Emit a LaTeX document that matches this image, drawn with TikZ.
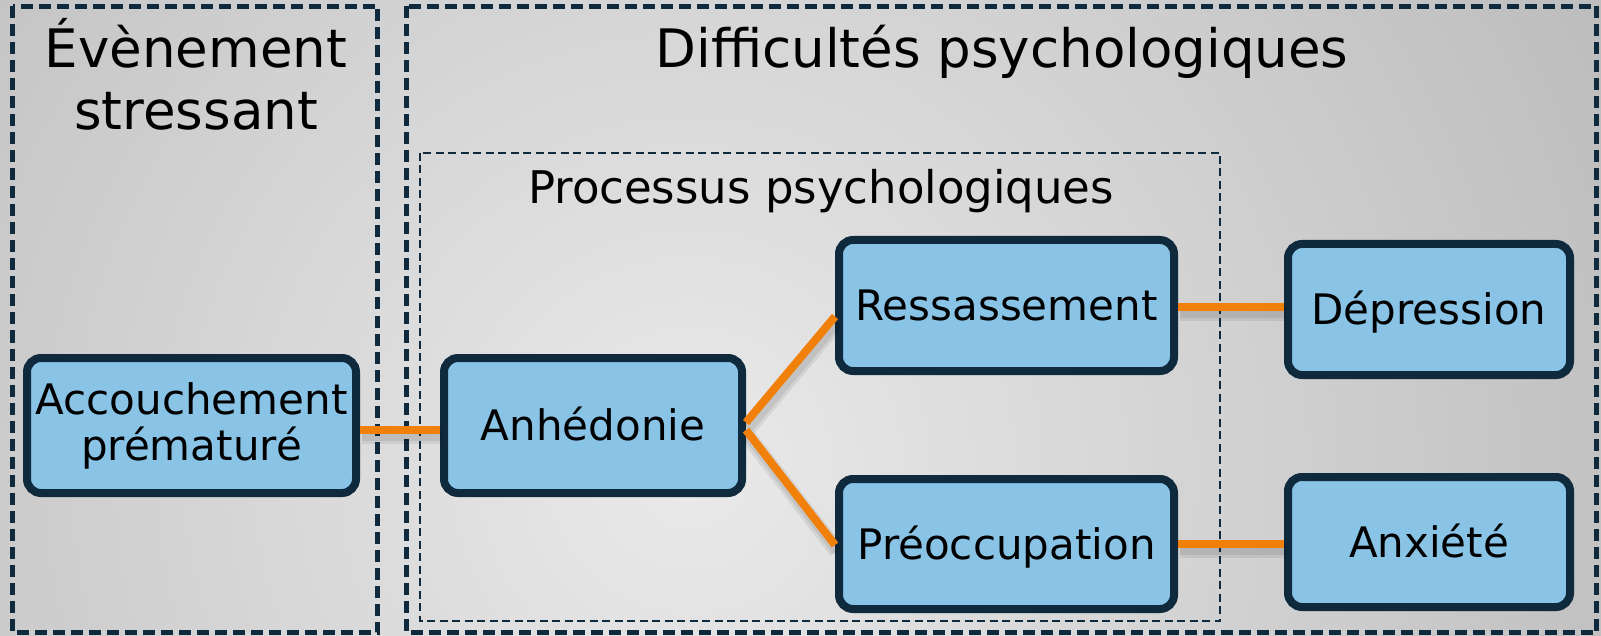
\documentclass[tikz,border=0pt]{standalone}
\usepackage{fontspec}
\setmainfont{DejaVu Sans}
\definecolor{boxfill}{RGB}{137,195,230}
\definecolor{navy}{RGB}{16,42,61}
\definecolor{conn}{RGB}{240,128,10}
\definecolor{bgin}{RGB}{234,234,234}
\definecolor{bgout}{RGB}{172,172,172}
\begin{document}
\begin{tikzpicture}[x=1pt,y=-1pt,
  procbase/.style={draw=navy, line width=8pt, fill=boxfill, rounded corners=14pt,
    inner sep=0pt, align=center, font=\fontsize{42}{46}\selectfont},
  proc/.style={procbase, text height=36pt, text depth=5.4pt},
  grp/.style={draw=navy, line width=4.4pt, dash pattern=on 12pt off 6pt},
  subgrp/.style={draw=navy, line width=2.6pt, dash pattern=on 8pt off 4.5pt},
  link/.style={draw=conn, line width=8pt},
  linkshadowA/.style={draw=black, opacity=0.07, line width=16pt, transform canvas={xshift=2pt,yshift=-6pt}},
  linkshadowB/.style={draw=black, opacity=0.08, line width=10pt, transform canvas={xshift=2pt,yshift=-6pt}},
  title/.style={font=\fontsize{53}{62}\selectfont, anchor=base, inner sep=0pt},
  subtitle/.style={font=\fontsize{45}{54}\selectfont, anchor=base, inner sep=0pt},
]
\useasboundingbox (0,0) rectangle (1601,636);
\begin{scope}
  \clip (0,0) rectangle (1601,636);
  \shade[inner color=bgin, outer color=bgout] (690,470) circle (1400);
\end{scope}

% group frames
\draw[grp] (12.5,6.5) rectangle (377.5,632.5);
\draw[grp] (406.5,6.5) rectangle (1596.5,632.5);
\draw[subgrp] (420,153) rectangle (1220,621);

% titles
\node[title] (t1a) at (196,68) {Évènement};
\node[title] (t1b) at (196,130) {stressant};
\node[title] (t2) at (1002,68) {Difficultés psychologiques};
\node[subtitle] (t3) at (821,204) {Processus psychologiques};

% boxes
\node[procbase, minimum width=329pt, minimum height=135pt] (acc) at (191.5,425.5) {Accouchement\\prématuré};
\node[proc, minimum width=298pt, minimum height=135pt] (anh) at (593,425.5) {Anhédonie};
\node[proc, minimum width=335pt, minimum height=131pt] (res) at (1006.5,305.5) {Ressassement};
\node[proc, minimum width=335pt, minimum height=130pt] (pre) at (1006.5,544) {Préoccupation};
\node[proc, minimum width=282pt, minimum height=131pt] (dep) at (1429,309.5) {Dépression};
\node[proc, minimum width=282pt, minimum height=130pt] (anx) at (1429,542) {Anxiété};

% connector shadows
\foreach \s in {linkshadowA,linkshadowB}{
  \draw[\s] ([yshift=-4.5pt]acc.east) -- ([yshift=-4.5pt]anh.west);
  \draw[\s] ([yshift=3pt]anh.east) -- ([yshift=-11pt]res.west);
  \draw[\s] ([yshift=-4.5pt]anh.east) -- ([yshift=-1pt]pre.west);
  \draw[\s] ([yshift=-1.5pt]res.east) -- ([yshift=2.5pt]dep.west);
  \draw[\s] (pre.east) -- ([yshift=-2pt]anx.west);
}

% connectors
\draw[link] ([yshift=-4.5pt]acc.east) -- ([yshift=-4.5pt]anh.west);
\draw[link] ([yshift=3pt]anh.east) -- ([yshift=-11pt]res.west);
\draw[link] ([yshift=-4.5pt]anh.east) -- ([yshift=-1pt]pre.west);
\draw[link] ([yshift=-1.5pt]res.east) -- ([yshift=2.5pt]dep.west);
\draw[link] (pre.east) -- ([yshift=-2pt]anx.west);
\end{tikzpicture}
\end{document}
